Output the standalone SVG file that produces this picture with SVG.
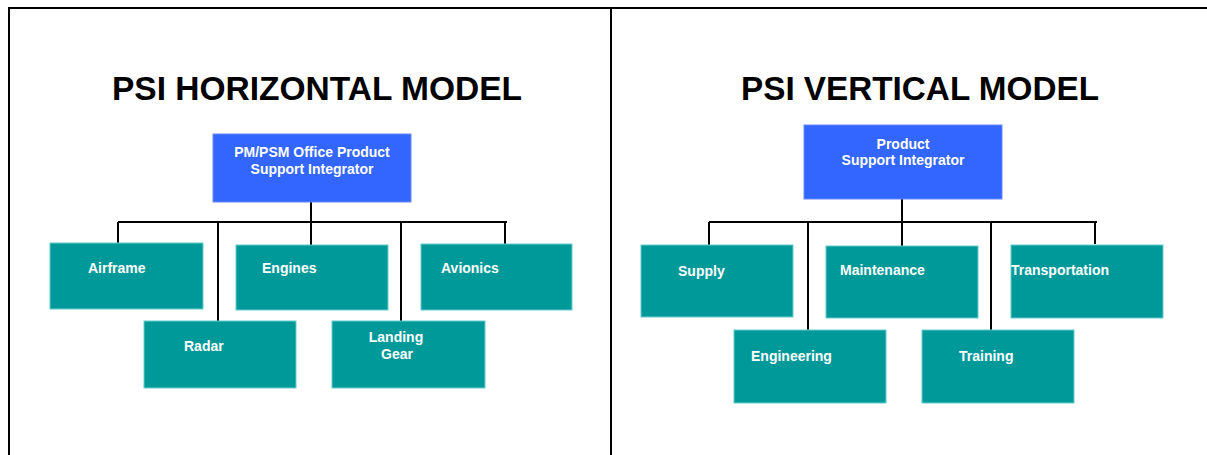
<svg xmlns="http://www.w3.org/2000/svg" width="1207" height="455" viewBox="0 0 1207 455">
<style>
.title{font-family:"Liberation Sans",Arial,sans-serif;font-weight:bold;font-size:34px;fill:#000}
.lbl{font-family:"Liberation Sans",Arial,sans-serif;font-weight:bold;font-size:14px;fill:#fff}
.top{fill:#3366FF;stroke:#6688ff;stroke-width:1}
.box{fill:#009999;stroke:#66CCCC;stroke-width:1}
.ln{stroke:#000;stroke-width:2;fill:none}
.frame{stroke:#000;stroke-width:2;fill:none}
</style>
<rect width="1207" height="455" fill="#fff"/>
<g id="frame">
<path class="frame" d="M9 455 V8 H1207 M611 8 V455"/>
</g>
<text class="title" x="317" y="100" text-anchor="middle" textLength="410" lengthAdjust="spacingAndGlyphs">PSI HORIZONTAL MODEL</text>
<text class="title" x="920" y="100" text-anchor="middle" textLength="358" lengthAdjust="spacingAndGlyphs">PSI VERTICAL MODEL</text>
<g id="connectors">
<path class="ln" d="M311 202 V222 M118 222 H507 M118 222 V243 M218 222 V321 M311 222 V245 M401 222 V321 M505 222 V244"/>
<path class="ln" d="M902 199 V222 M709 222 H1097 M709 222 V245 M808 222 V330 M902 222 V246 M991 222 V330 M1095 222 V244"/>
</g>
<g id="psi-h">
<rect class="top" x="213" y="134" width="198" height="68"/>
<text class="lbl" x="312" y="157" text-anchor="middle">PM/PSM Office Product</text>
<text class="lbl" x="312" y="174" text-anchor="middle">Support Integrator</text>
</g>
<g id="airframe"><rect class="box" x="50" y="243" width="153" height="66"/><text class="lbl" x="88" y="273">Airframe</text></g>
<g id="engines"><rect class="box" x="236" y="245" width="152" height="65"/><text class="lbl" x="262" y="273">Engines</text></g>
<g id="avionics"><rect class="box" x="421" y="244" width="151" height="66"/><text class="lbl" x="441" y="273">Avionics</text></g>
<g id="radar"><rect class="box" x="144" y="321" width="152" height="67"/><text class="lbl" x="184" y="351">Radar</text></g>
<g id="landing-gear"><rect class="box" x="332" y="321" width="153" height="67"/><text class="lbl" x="396" y="342" text-anchor="middle">Landing</text><text class="lbl" x="397" y="359" text-anchor="middle">Gear</text></g>
<g id="psi-v">
<rect class="top" x="804" y="125" width="198" height="74"/>
<text class="lbl" x="903" y="149" text-anchor="middle">Product</text>
<text class="lbl" x="903" y="165" text-anchor="middle">Support Integrator</text>
</g>
<g id="supply"><rect class="box" x="641" y="245" width="152" height="72"/><text class="lbl" x="678" y="276">Supply</text></g>
<g id="maintenance"><rect class="box" x="826" y="246" width="152" height="72"/><text class="lbl" x="840" y="275">Maintenance</text></g>
<g id="transportation"><rect class="box" x="1011" y="245" width="152" height="73"/><text class="lbl" x="1011" y="275">Transportation</text></g>
<g id="engineering"><rect class="box" x="734" y="330" width="152" height="73"/><text class="lbl" x="751" y="361">Engineering</text></g>
<g id="training"><rect class="box" x="922" y="330" width="152" height="73"/><text class="lbl" x="959" y="361">Training</text></g>
</svg>
